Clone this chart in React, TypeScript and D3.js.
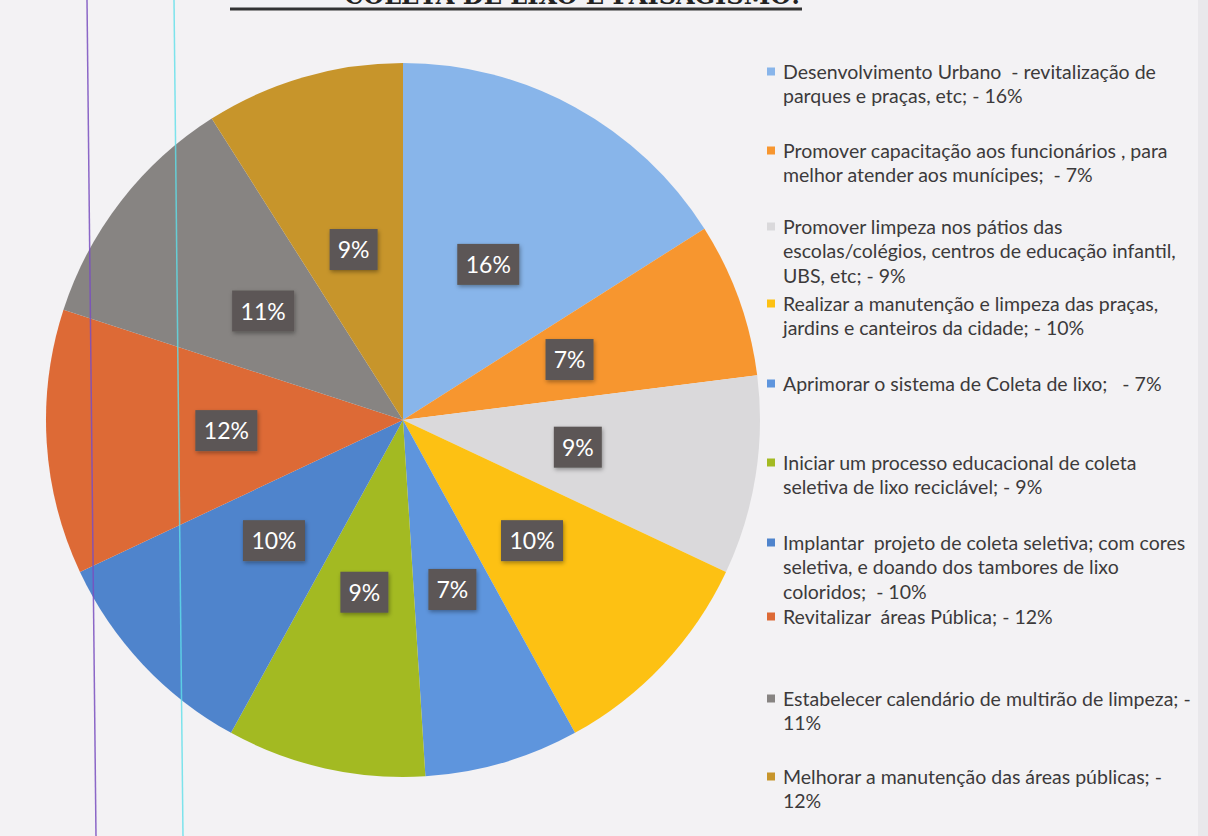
import React, { useRef, useEffect } from 'react';
import * as d3 from 'd3';

// slice values, clockwise from 12 o'clock
const values = [16, 7, 9, 10, 7, 9, 10, 12, 11, 9];
const sliceLabels = ['16%', '7%', '9%', '10%', '7%', '9%', '10%', '12%', '11%', '9%'];
const colors = ['#88b5ea', '#f7962f', '#dad9db', '#fdc113', '#5e95dd', '#a3ba22', '#4f84cc', '#dd6a36', '#878482', '#c7952b'];

// legend text, one array per entry (lines as in the original)
const legendLines = [
  ['Desenvolvimento Urbano  - revitalização de', 'parques e praças, etc; - 16%'],
  ['Promover capacitação aos funcionários , para', 'melhor atender aos munícipes;  - 7%'],
  ['Promover limpeza nos pátios das', 'escolas/colégios, centros de educação infantil,', 'UBS, etc; - 9%'],
  ['Realizar a manutenção e limpeza das praças,', 'jardins e canteiros da cidade; - 10%'],
  ['Aprimorar o sistema de Coleta de lixo;   - 7%'],
  ['Iniciar um processo educacional de coleta', 'seletiva de lixo reciclável; - 9%'],
  ['Implantar  projeto de coleta seletiva; com cores', 'seletiva, e doando dos tambores de lixo', 'coloridos;  - 10%'],
  ['Revitalizar  áreas Pública; - 12%'],
  ['Estabelecer calendário de multirão de limpeza; -', '11%'],
  ['Melhorar a manutenção das áreas públicas; -', '12%'],
];
const legendTop = [72, 151, 227, 304, 384, 463, 543, 617, 699, 777];

const title = 'COLETA DE LIXO E PAISAGISMO:';

const W = 1208;
const H = 836;

const PieChart = () => {
  const ref = useRef<SVGSVGElement>(null);

  useEffect(() => {
    const svg = d3.select(ref.current);
    svg.selectAll('*').remove();

    const defs = svg.append('defs');
    const f = defs.append('filter').attr('id', 'sh').attr('x', '-30%').attr('y', '-30%').attr('width', '160%').attr('height', '160%');
    f.append('feDropShadow').attr('dx', 1).attr('dy', 2).attr('stdDeviation', 2).attr('flood-color', '#000').attr('flood-opacity', 0.35);

    svg.append('rect').attr('width', W).attr('height', H).attr('fill', '#f3f2f4');
    svg.append('rect').attr('x', W - 10).attr('width', 10).attr('height', H).attr('fill', '#e9e8eb');

    // title, mostly cut off by the top edge (as in the scan)
    svg.append('text')
      .attr('x', 800).attr('y', 4)
      .attr('text-anchor', 'end')
      .attr('font-family', '"DejaVu Serif", "Liberation Serif", serif')
      .attr('font-weight', 'bold')
      .attr('font-size', 24)
      .attr('fill', '#222')
      .text(title);
    svg.append('line').attr('x1', 230).attr('x2', 802).attr('y1', 9).attr('y2', 9)
      .attr('stroke', '#333').attr('stroke-width', 3);

    const cx = 403, cy = 420, R = 357;
    const g = svg.append('g').attr('transform', `translate(${cx},${cy})`);

    const pie = d3.pie<number>().sort(null).value(d => d);
    const arcs = pie(values);
    const arc = d3.arc<d3.PieArcDatum<number>>().innerRadius(0).outerRadius(R);
    const labelArc = d3.arc<d3.PieArcDatum<number>>().innerRadius(177).outerRadius(177);

    g.selectAll('path.slice')
      .data(arcs)
      .join('path')
      .attr('class', 'slice')
      .attr('d', arc)
      .attr('fill', (d, i) => colors[i]);

    const lab = g.selectAll('g.lab')
      .data(arcs)
      .join('g')
      .attr('class', 'lab')
      .attr('transform', d => `translate(${labelArc.centroid(d)})`);

    lab.append('rect')
      .attr('x', (d, i) => -(sliceLabels[i].length > 2 ? 31 : 24))
      .attr('y', -21)
      .attr('width', (d, i) => (sliceLabels[i].length > 2 ? 62 : 48))
      .attr('height', 41)
      .attr('fill', '#5b5756')
      .attr('filter', 'url(#sh)');

    lab.append('text')
      .attr('text-anchor', 'middle')
      .attr('dy', '0.36em')
      .attr('font-family', 'Lato, "Open Sans", sans-serif')
      .attr('font-size', 23)
      .attr('fill', '#fff')
      .text((d, i) => sliceLabels[i]);

    // legend
    const leg = svg.append('g');
    legendLines.forEach((lines, i) => {
      const y0 = legendTop[i];
      leg.append('rect')
        .attr('x', 767).attr('y', y0 - 4.5)
        .attr('width', 8).attr('height', 8)
        .attr('fill', colors[i]);
      lines.forEach((t, j) => {
        leg.append('text')
          .attr('x', 783)
          .attr('y', y0 + j * 24.5)
          .attr('dy', '0.35em')
          .attr('font-family', 'Lato, "Open Sans", sans-serif')
          .attr('font-size', 19.5)
          .attr('fill', '#3c3a3b')
          .style('white-space', 'pre')
          .text(t);
      });
    });

    // scanner / notebook margin lines
    svg.append('line').attr('x1', 87).attr('y1', 0).attr('x2', 96).attr('y2', H)
      .attr('stroke', '#7a4fc0').attr('stroke-width', 1.5).attr('opacity', 0.85);
    svg.append('line').attr('x1', 174).attr('y1', 0).attr('x2', 183).attr('y2', H)
      .attr('stroke', '#5fe0ea').attr('stroke-width', 1.5).attr('opacity', 0.8);
  }, []);

  return <svg ref={ref} width={W} height={H} style={{ display: 'block' }}></svg>;
};

export default function App() {
  return (
    <div style={{ position: 'absolute', left: 0, top: 0 }}>
      <PieChart />
    </div>
  );
}
